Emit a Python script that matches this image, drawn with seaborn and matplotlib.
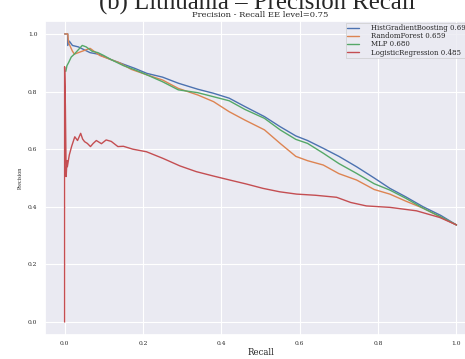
import numpy as np
import pandas as pd
import matplotlib
matplotlib.use("Agg")
import matplotlib.pyplot as plt
import seaborn as sns

# ---- data ----
models = ["HistGradientBoosting", "RandomForest", "MLP", "LogisticRegression"]
scores = ["0.695", "0.659", "0.680", "0.485"]

hgb_recall = [0.0, 0.008, 0.008, 0.012, 0.02, 0.035, 0.05, 0.065, 0.085, 0.12, 0.15, 0.18, 0.21,
              0.25, 0.29, 0.34, 0.38, 0.42, 0.46, 0.51, 0.55, 0.59, 0.62, 0.66, 0.70, 0.745,
              0.79, 0.83, 0.87, 0.915, 0.96, 1.0]
hgb_precision = [1.0, 1.0, 0.96, 0.975, 0.96, 0.955, 0.945, 0.935, 0.93, 0.91, 0.895, 0.88, 0.863,
                 0.85, 0.829, 0.808, 0.794, 0.777, 0.748, 0.713, 0.678, 0.646, 0.63, 0.603, 0.575,
                 0.539, 0.50, 0.464, 0.435, 0.40, 0.37, 0.337]

rf_recall = [0.0, 0.008, 0.01, 0.015, 0.02, 0.025, 0.035, 0.045, 0.055, 0.065, 0.075, 0.09, 0.11,
             0.14, 0.17, 0.21, 0.25, 0.29, 0.34, 0.38, 0.42, 0.46, 0.51, 0.55, 0.59, 0.62, 0.66,
             0.70, 0.745, 0.79, 0.83, 0.87, 0.915, 0.957, 1.0]
rf_precision = [1.0, 1.0, 0.97, 0.955, 0.94, 0.93, 0.935, 0.94, 0.945, 0.95, 0.94, 0.925, 0.915,
                0.90, 0.877, 0.858, 0.84, 0.811, 0.788, 0.765, 0.73, 0.701, 0.667, 0.62, 0.575,
                0.56, 0.545, 0.515, 0.493, 0.46, 0.444, 0.42, 0.395, 0.366, 0.337]

mlp_recall = [0.003, 0.006, 0.01, 0.017, 0.025, 0.035, 0.045, 0.055, 0.07, 0.085, 0.10, 0.12, 0.15,
              0.18, 0.21, 0.25, 0.29, 0.34, 0.38, 0.42, 0.46, 0.51, 0.55, 0.59, 0.62, 0.66, 0.70,
              0.745, 0.79, 0.83, 0.87, 0.915, 0.96, 1.0]
mlp_precision = [0.87, 0.89, 0.90, 0.92, 0.93, 0.945, 0.96, 0.955, 0.94, 0.935, 0.925, 0.91, 0.89,
                 0.875, 0.858, 0.834, 0.806, 0.796, 0.782, 0.768, 0.738, 0.707, 0.667, 0.634,
                 0.62, 0.586, 0.55, 0.516, 0.48, 0.458, 0.43, 0.395, 0.365, 0.337]

lr_recall = [0.0, 0.0, 0.002, 0.004, 0.006, 0.007, 0.012, 0.018, 0.026, 0.033, 0.041, 0.046, 0.051,
             0.058, 0.066, 0.073, 0.081, 0.094, 0.106, 0.119, 0.136, 0.15, 0.174, 0.209, 0.251,
             0.294, 0.336, 0.379, 0.421, 0.464, 0.506, 0.549, 0.592, 0.64, 0.694, 0.73, 0.77,
             0.83, 0.898, 0.957, 1.0]
lr_precision = [0.0, 0.886, 0.75, 0.505, 0.56, 0.539, 0.58, 0.61, 0.643, 0.63, 0.655, 0.635, 0.626,
                0.62, 0.609, 0.62, 0.63, 0.619, 0.632, 0.627, 0.609, 0.61, 0.60, 0.591, 0.568,
                0.542, 0.522, 0.507, 0.493, 0.479, 0.464, 0.452, 0.444, 0.44, 0.433, 0.415, 0.403,
                0.398, 0.386, 0.363, 0.337]

x_ticks = [0.0, 0.2, 0.4, 0.6, 0.8, 1.0]
y_ticks = [0.0, 0.2, 0.4, 0.6, 0.8, 1.0]

recalls = [hgb_recall, rf_recall, mlp_recall, lr_recall]
precisions = [hgb_precision, rf_precision, mlp_precision, lr_precision]

frames = []
for m, r, p in zip(models, recalls, precisions):
    frames.append(pd.DataFrame({"Recall": r, "Precision": p, "model": m}))
df = pd.concat(frames, ignore_index=True)

# ---- style ----
sns.set_theme(style="darkgrid")
plt.rcParams["font.family"] = ["DejaVu Serif"]

fig = plt.figure(figsize=(4.65, 3.59), dpi=100)
ax = fig.add_axes([0.0968, 0.0669, 0.927, 0.8747])

palette = sns.color_palette("deep", 4)
sns.lineplot(data=df, x="Recall", y="Precision", hue="model", hue_order=models,
             palette=palette, sort=False, estimator=None, units="model",
             linewidth=1.0, ax=ax, legend=False)

ax.set_xlim(-0.05, 1.05)
ax.set_ylim(-0.045, 1.045)
ax.set_xticks(x_ticks)
ax.set_yticks(y_ticks)
ax.set_xticklabels([f"{t:.1f}" for t in x_ticks])
ax.set_yticklabels([f"{t:.1f}" for t in y_ticks])
ax.tick_params(axis="x", labelsize=4.3, pad=4, length=0)
ax.tick_params(axis="y", labelsize=4.3, pad=5.5, length=0)
for g in ax.get_xgridlines() + ax.get_ygridlines():
    g.set_linewidth(0.8)

ax.set_xlabel("Recall", fontsize=6.2, labelpad=2)
ax.set_ylabel("Precision", fontsize=4.2, labelpad=3.5, family="Liberation Serif")
ax.set_title("Precision - Recall EE level=0.75", fontsize=6.0, pad=3)

handles = [plt.Line2D([], [], color=c, lw=1.0) for c in palette]
labels = [f"{m} {s}" for m, s in zip(models, scores)]
leg = ax.legend(handles, labels, loc="upper left", bbox_to_anchor=(0.694, 1.0),
                fontsize=5.0, labelspacing=0.02, borderpad=0.15, handlelength=1.7,
                handletextpad=1.7, frameon=True, framealpha=0.8, edgecolor="0.8",
                fancybox=False, borderaxespad=0.3)
leg.get_frame().set_linewidth(0.6)

fig.text(0.554, (359 - 9.5) / 359, "(b) Lithuania – Precision Recall", ha="center",
         va="baseline", fontsize=17.8, family="Liberation Serif")

fig.savefig("out.png", dpi=100)
